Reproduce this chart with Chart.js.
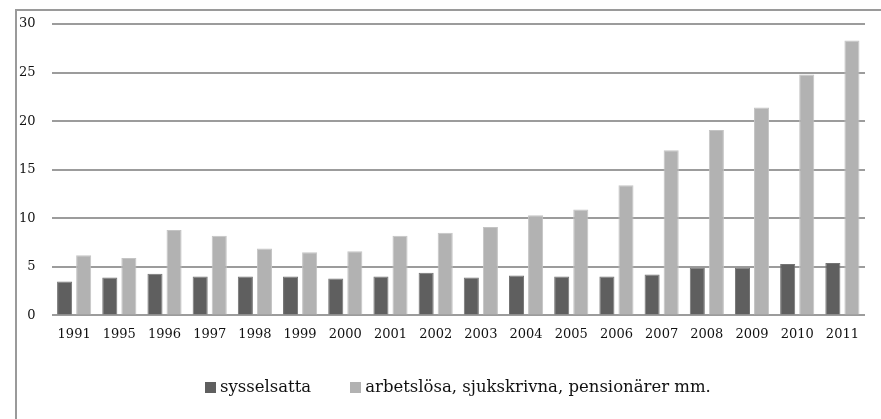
<!DOCTYPE html>
<html>
<head>
<meta charset="utf-8">
<script src="https://cdn.jsdelivr.net/npm/chart.js@4"></script>
<style>
  html, body { margin: 0; padding: 0; background: #fff; overflow: hidden; }
  #ram { position: absolute; left: 15px; top: 9px; width: 900px; height: 430px; border: 2px solid #9a9a9a; box-sizing: border-box; }
  #wrap { position: absolute; left: 0; top: 0; width: 881px; height: 419px; }
  #legend { position: absolute; left: 205px; top: 377px; display: flex; align-items: center;
    font-family: "DejaVu Serif", serif; font-size: 16.5px; line-height: 20px; color: #111; white-space: nowrap; }
  #legend .item { display: flex; align-items: center; margin-right: 39px; }
  #legend .box { width: 11px; height: 11px; margin-right: 4px; margin-top: 1px; }
</style>
</head>
<body>
<div id="ram"></div>
<div id="wrap"><canvas id="grafik"></canvas></div>
<div id="legend"></div>
<script>
const ar = ["1991", "1995", "1996", "1997", "1998", "1999", "2000", "2001", "2002",
  "2003", "2004", "2005", "2006", "2007", "2008", "2009", "2010", "2011"];
const sysselsatta = [3.5, 3.9, 4.3, 4.0, 4.0, 4.0, 3.8, 4.0, 4.4, 3.9, 4.1, 4.0, 4.0, 4.2, 4.9, 4.9, 5.3, 5.4];
const ovriga = [6.2, 5.9, 8.8, 8.2, 6.9, 6.5, 6.6, 8.2, 8.5, 9.1, 10.3, 10.9, 13.4, 17.0, 19.1, 21.4, 24.8, 28.3];
const yTicks = [0, 5, 10, 15, 20, 25, 30];

const typsnitt = "DejaVu Serif";
Chart.defaults.font.family = typsnitt;
Chart.defaults.color = "#111";

const ctx = document.getElementById("grafik").getContext("2d");
const diagram = new Chart(ctx, {
  type: "bar",
  data: {
    labels: ar,
    datasets: [
      {
        label: "sysselsatta",
        data: sysselsatta,
        backgroundColor: "#5f5f5f",
        borderColor: "#747474",
        borderWidth: 1,
        categoryPercentage: 0.844,
        barPercentage: 0.79
      },
      {
        label: "arbetslösa, sjukskrivna, pensionärer mm.",
        data: ovriga,
        backgroundColor: "#b2b2b2",
        borderColor: "#c4c4c4",
        borderWidth: 1,
        categoryPercentage: 0.844,
        barPercentage: 0.79
      }
    ]
  },
  options: {
    responsive: true,
    maintainAspectRatio: false,
    animation: false,
    layout: { padding: { left: 3, right: 16, top: 24, bottom: 74 } },
    plugins: {
      tooltip: { enabled: false },
      legend: { display: false }
    },
    scales: {
      x: {
        grid: { display: false },
        border: { display: false },
        ticks: {
          color: "#111",
          padding: 3,
          maxRotation: 0,
          autoSkip: false,
          font: { family: typsnitt, size: 13 }
        }
      },
      y: {
        min: 0,
        max: 30,
        afterBuildTicks: axis => { axis.ticks = yTicks.map(v => ({ value: v })); },
        grid: { color: "#9c9c9c", lineWidth: 2, drawTicks: false },
        border: { display: false },
        ticks: {
          color: "#111",
          padding: 16,
          font: { family: typsnitt, size: 13 }
        }
      }
    }
  }
});

// egen förklaring under diagrammet
const legend = document.getElementById("legend");
diagram.data.datasets.forEach(ds => {
  const item = document.createElement("span");
  item.className = "item";
  item.innerHTML = `<span class="box" style="background:${ds.backgroundColor}"></span>${ds.label}`;
  legend.appendChild(item);
});
</script>
</body>
</html>
